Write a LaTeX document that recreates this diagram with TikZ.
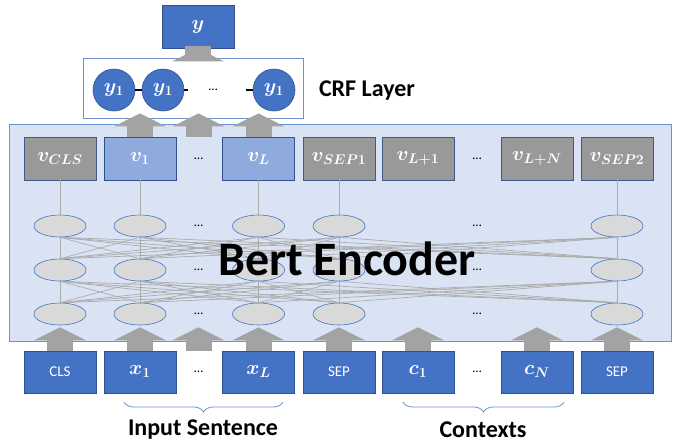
\RequirePackage{fix-cm}
\documentclass[tikz,border=0pt]{standalone}
\usepackage{fontspec}
\setmainfont{Carlito}
\usetikzlibrary{arrows.meta,shapes.geometric,decorations.pathreplacing}

\definecolor{boxblue}{HTML}{4472C4}
\definecolor{edgeblue}{HTML}{2F528F}
\definecolor{paleblue}{HTML}{8FAADC}
\definecolor{encfill}{HTML}{DAE3F3}
\definecolor{encedge}{HTML}{6F91CC}
\definecolor{tokgray}{HTML}{999999}
\definecolor{cellgray}{HTML}{D9D9D9}
\definecolor{wiregray}{HTML}{ABABAB}
\definecolor{fatgray}{HTML}{A3A3A3}

\begin{document}
\begin{tikzpicture}[x=1pt,y=-1pt]
  % overall canvas
  \useasboundingbox (0,0) rectangle (680,445);

  % styles
  \tikzset{
    inbox/.style={draw=edgeblue,fill=boxblue,text=white,line width=0.8pt,
      minimum width=72pt,minimum height=42pt,inner sep=0pt,
      font=\fontsize{20}{20}\selectfont\boldmath},
    word/.style={inbox,font=\fontsize{15}{15}\selectfont},
    vbox/.style={inbox,fill=tokgray,draw=edgeblue!80!gray,minimum height=43pt},
    vsel/.style={vbox,fill=paleblue,draw=edgeblue},
    cell/.style={ellipse,draw=boxblue,fill=cellgray,line width=0.6pt,
      minimum width=52pt,minimum height=22pt,inner sep=0pt},
    tag/.style={circle,draw=edgeblue,fill=boxblue,text=white,line width=0.6pt,
      minimum size=42pt,inner sep=0pt,font=\fontsize{20}{20}\selectfont\boldmath},
    fat/.style={draw=fatgray,line width=26pt,
      -{Triangle[width=52pt,length=13pt,line width=0pt]}},
    wire/.style={draw=wiregray,line width=0.7pt},
    link/.style={draw=black,line width=1.2pt},
    dots/.style={inner sep=1pt,font=\fontsize{13}{13}\selectfont},
    lbl/.style={font=\bfseries\fontsize{24}{24}\selectfont},
    brc/.style={draw=encedge,line width=0.8pt,decorate,
      decoration={brace,mirror,amplitude=10pt}},
  }

  % white background
  \fill[white] (0,0) rectangle (680,445);

  % encoder frame
  \draw[draw=encedge,fill=encfill,line width=0.8pt] (9,124) rectangle (671,341);

  % output label and CRF frame
  \node[inbox,minimum height=43pt] (yout) at (198,26.5) {$y$};
  \node[draw=encedge,fill=white,line width=0.8pt,minimum width=220pt,
    minimum height=60pt,inner sep=0pt] (crf) at (193,88) {};
  \node[lbl] (crftext) at (367,91) {CRF Layer};

  % CRF tags
  \node[tag] (tagA) at (114,90) {$y_1$};
  \node[tag] (tagB) at (163,90) {$y_1$};
  \node[dots] (tagdots) at (213,90) {\dots};
  \node[tag] (tagC) at (274,90) {$y_1$};
  \draw[link] (tagA.east) -- (tagB.west);
  \draw[link] (tagB.east) -- ++(4,0);
  \draw[link] (tagC.west) -- ++(-7,0);

  % encoder outputs
  \node[vbox] (vCLS)  at (60,158.5)  {$v_{CLS}$};
  \node[vsel] (vOne)  at (140,158.5) {$v_1$};
  \node[dots] (vdotsA) at (198.5,158.5) {\dots};
  \node[vsel] (vL)    at (258.5,158.5) {$v_L$};
  \node[vbox] (vSEP)  at (339,158.5) {$v_{SEP1}$};
  \node[vbox] (vLone) at (418,158.5) {$v_{L+1}$};
  \node[dots] (vdotsB) at (477,158.5) {\dots};
  \node[vbox] (vLN)   at (537,158.5) {$v_{L+N}$};
  \node[vbox] (vSEPb) at (617,158.5) {$v_{SEP2}$};

  % inputs
  \node[word]  (inCLS)  at (60,372)  {CLS};
  \node[inbox] (inOne)  at (140,372) {$x_1$};
  \node[dots]  (indotsA) at (198.5,372) {\dots};
  \node[inbox] (inL)    at (258.5,372) {$x_L$};
  \node[word]  (inSEP)  at (339,372) {SEP};
  \node[inbox] (inCone) at (418,372) {$c_1$};
  \node[dots]  (indotsB) at (477,372) {\dots};
  \node[inbox] (inCN)   at (537,372) {$c_N$};
  \node[word]  (inSEPb) at (617,372) {SEP};

  % hidden cells, three layers
  \foreach \c/\x in {CLS/60,One/140,L/258.5,SEP/339,SEPb/617}
    \foreach \r/\y in {1/226,2/270,3/314}
      \node[cell] (e\c\r) at (\x,\y) {};
  \foreach \r/\y in {1/226,2/270,3/314} {
    \node[dots] (edotsA\r) at (198.5,\y) {\dots};
    \node[dots] (edotsB\r) at (477,\y) {\dots};
  }

  % wires
  \foreach \c in {CLS,One,L,SEP,SEPb}
    \draw[wire] (v\c.south) -- (e\c1.north);
  \foreach \a in {CLS,One,L,SEP,SEPb}
    \foreach \b in {CLS,One,L,SEP,SEPb} {
      \draw[wire] (e\a1.south) -- (e\b2.north);
      \draw[wire] (e\a2.south) -- (e\b3.north);
    }

  \node[font=\bfseries\fontsize{48}{48}\selectfont] (enc) at (347,259) {Bert Encoder};

  % fat arrows into the encoder
  \foreach \n in {inCLS,inOne,inL,inSEP,inSEPb}
    \draw[fat,shorten >=2pt] (\n.north) -- (\n.north |- eCLS3.south);
  \draw[fat,shorten >=2pt] (indotsA |- inOne.north) -- (indotsA |- eCLS3.south);
  \draw[fat,shorten >=2pt] (inCone.north) -- (inCone.north |- eCLS3.south);
  \draw[fat,shorten >=2pt] (inCN.north) -- (inCN.north |- eCLS3.south);

  % fat arrows up to the CRF layer
  \draw[fat,shorten >=-5pt] (vOne.north) -- (vOne.north |- crf.south);
  \draw[fat,shorten >=-5pt] (vdotsA |- vOne.north) -- (vdotsA |- crf.south);
  \draw[fat,shorten >=-5pt] (vL.north) -- (vL.north |- crf.south);
  \draw[fat,shorten <=-12pt] (yout |- crf.north) -- (yout.south);

  % braces and captions
  \coordinate (brA) at (124,402);
  \coordinate (brB) at (283,402);
  \coordinate (brC) at (403,402);
  \coordinate (brD) at (564,402);
  \draw[brc] (brA) -- (brB);
  \draw[brc] (brC) -- (brD);
  \node[lbl] (insent) at (203,430) {Input Sentence};
  \node[lbl] (ctx) at (483,430) {Contexts};
\end{tikzpicture}
\end{document}
